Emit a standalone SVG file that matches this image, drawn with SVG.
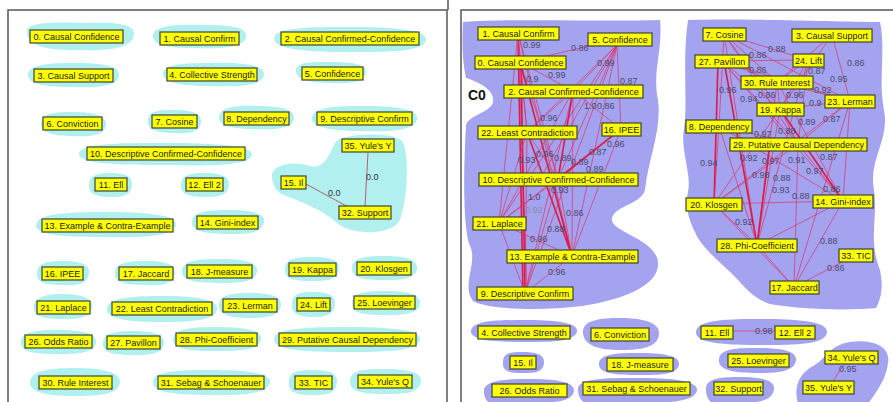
<svg xmlns="http://www.w3.org/2000/svg" width="893" height="402" viewBox="0 0 893 402">
<style>
.bc{fill:#b2f0f0}
.bp{fill:#a3a3ef}
.box{fill:#ffff00;stroke:#3c4634;stroke-width:1.2}
.t{font-family:"Liberation Sans",Arial,sans-serif;font-size:9px;fill:#1a1a1a;text-anchor:middle}
.e{stroke:#e0306a;stroke-width:0.7;fill:none}
.e2{stroke:#e01848;stroke-width:1.6;fill:none}
.el{stroke:#b06070;stroke-width:1;fill:none}
.lb{font-family:"Liberation Sans",Arial,sans-serif;font-size:9px;fill:#4a4a6e}
.lb0{font-family:"Liberation Sans",Arial,sans-serif;font-size:9px;fill:#303040}
.frame{fill:none;stroke:#555;stroke-width:1.5}
</style>
<rect width="893" height="402" fill="#ffffff"/>
<path class="frame" d="M8 403 V10 H447 V403"/>
<path class="frame" d="M448 0 V10"/>
<path class="frame" d="M461 403 V10 H895"/>

<!-- LEFT PANEL -->
<g id="left-blobs">
<path class="bc" d="M27 30 C28 22 60 22 90 23 C115 22 136 24 134 35 C132 48 110 51 80 50 C50 51 25 47 27 30 Z"/>
<path class="bc" d="M153 35 C154 25 180 24 205 25 C230 25 248 27 246 37 C244 48 220 49 195 48 C170 48 152 46 153 35 Z"/>
<path class="bc" d="M274 38 C276 27 310 27 350 27 C390 27 428 29 426 40 C424 52 390 52 350 52 C310 52 273 50 274 38 Z"/>
<path class="bc" d="M28 74 C30 63 55 63 75 63 C100 63 121 65 119 76 C117 87 95 88 72 87 C48 87 27 85 28 74 Z"/>
<path class="bc" d="M163 73 C165 63 190 63 215 63 C240 62 266 65 264 75 C262 86 238 87 212 86 C186 86 162 84 163 73 Z"/>
<path class="bc" d="M296 70 C297 61 315 62 332 62 C350 62 368 64 366 73 C364 83 348 84 330 83 C312 83 295 80 296 70 Z"/>
<path class="bc" d="M41 123 C42 112 58 112 74 112 C92 112 107 115 106 125 C105 136 90 137 72 136 C55 136 40 133 41 123 Z"/>
<path class="bc" d="M148 121 C148 110 160 110 175 110 C190 110 202 112 201 122 C200 133 188 134 174 133 C160 133 147 131 148 121 Z"/>
<path class="bc" d="M219 117 C220 106 240 105 257 106 C275 106 295 108 294 118 C293 129 275 130 256 129 C237 129 218 127 219 117 Z"/>
<path class="bc" d="M312 118 C313 106 340 106 365 106 C392 106 419 108 417 119 C415 131 390 132 364 131 C338 131 311 129 312 118 Z"/>
<path class="bc" d="M79 154 C80 143 120 143 166 143 C210 143 254 145 252 155 C250 166 210 166 166 165 C120 165 78 164 79 154 Z"/>
<path class="bc" d="M89 185 C89 174 100 173 111 173 C123 173 133 175 132 185 C131 197 121 197 110 197 C99 197 88 195 89 185 Z"/>
<path class="bc" d="M181 185 C181 174 193 173 205 173 C218 173 230 175 229 185 C228 197 216 197 204 197 C192 197 180 195 181 185 Z"/>
<path class="bc" d="M36 225 C37 213 70 212 106 212 C142 212 178 214 176 225 C174 237 140 238 106 237 C70 237 35 236 36 225 Z"/>
<path class="bc" d="M192 222 C192 211 210 210 228 210 C247 210 266 212 264 222 C262 234 245 234 227 234 C209 234 191 232 192 222 Z"/>
<path class="bc" d="M272 178 C270 165 292 160 310 166 C326 170 330 150 336 142 C342 133 396 131 403 142 C410 160 407 200 400 220 C392 236 350 236 336 222 C322 210 300 201 286 196 C276 192 273 186 272 178 Z"/>
<path class="bc" d="M37 273 C37 262 50 261 63 261 C77 261 90 263 89 273 C88 285 76 286 62 285 C49 285 36 284 37 273 Z"/>
<path class="bc" d="M115 273 C115 262 130 261 146 261 C162 261 176 263 175 273 C174 285 160 286 145 285 C130 285 114 284 115 273 Z"/>
<path class="bc" d="M182 271 C182 260 200 259 220 259 C240 259 258 261 257 271 C256 283 238 283 219 283 C200 283 181 282 182 271 Z"/>
<path class="bc" d="M285 269 C285 258 298 257 312 257 C327 257 340 259 339 269 C338 281 325 281 311 281 C297 281 284 280 285 269 Z"/>
<path class="bc" d="M352 268 C352 257 368 256 384 256 C401 256 418 258 417 268 C416 280 400 280 383 280 C367 280 351 279 352 268 Z"/>
<path class="bc" d="M34 307 C34 296 48 294 63 294 C78 294 93 297 92 307 C91 319 77 319 62 319 C48 319 33 318 34 307 Z"/>
<path class="bc" d="M107 309 C107 297 135 296 162 296 C190 296 218 298 217 309 C216 321 190 322 161 322 C134 322 106 320 107 309 Z"/>
<path class="bc" d="M219 305 C219 294 235 293 250 293 C266 293 282 295 281 305 C280 317 265 318 249 318 C234 318 218 316 219 305 Z"/>
<path class="bc" d="M292 304 C292 293 302 292 313 292 C325 292 336 294 335 304 C334 316 324 317 313 317 C302 317 291 315 292 304 Z"/>
<path class="bc" d="M352 303 C352 292 368 291 385 291 C403 291 421 293 420 303 C419 315 402 315 384 315 C367 315 351 314 352 303 Z"/>
<path class="bc" d="M21 342 C21 331 40 330 58 330 C77 330 97 332 96 342 C95 354 76 354 57 354 C39 354 20 353 21 342 Z"/>
<path class="bc" d="M103 343 C103 332 118 331 133 331 C149 331 165 333 164 343 C163 355 148 355 132 355 C117 355 102 354 103 343 Z"/>
<path class="bc" d="M173 339 C173 328 195 327 217 327 C240 327 262 329 261 339 C260 351 238 351 216 351 C194 351 172 350 173 339 Z"/>
<path class="bc" d="M274 339 C274 328 310 327 347 327 C385 327 421 329 420 339 C419 352 384 352 346 352 C310 352 273 351 274 339 Z"/>
<path class="bc" d="M30 382 C31 369 55 368 76 368 C98 368 121 371 120 382 C119 395 98 396 75 396 C53 396 29 394 30 382 Z"/>
<path class="bc" d="M153 382 C153 370 182 370 211 370 C241 370 271 372 270 382 C269 395 240 395 210 395 C181 395 152 394 153 382 Z"/>
<path class="bc" d="M289 382 C289 370 301 370 313 370 C326 370 338 372 337 382 C336 395 325 395 312 395 C300 395 288 394 289 382 Z"/>
<path class="bc" d="M350 381 C350 369 368 369 385 369 C403 369 422 371 421 381 C420 394 403 394 384 394 C367 394 349 393 350 381 Z"/>
</g>

<g id="left-connectors">
<line class="el" x1="306" y1="184" x2="350" y2="208"/>
<line class="el" x1="368" y1="153" x2="365" y2="206"/>
<text class="lb0" x="328" y="196">0.0</text>
<text class="lb0" x="366" y="180">0.0</text>
</g>

<g id="l0"><rect class="box" x="30" y="30" width="93" height="13"/><text class="t" x="76.5" y="40">0. Causal Confidence</text></g>
<g id="l1"><rect class="box" x="160" y="32" width="79" height="13"/><text class="t" x="199.5" y="42">1. Causal Confirm</text></g>
<g id="l2"><rect class="box" x="281" y="32" width="138" height="13"/><text class="t" x="350" y="42">2. Causal Confirmed-Confidence</text></g>
<g id="l3"><rect class="box" x="34" y="69" width="79" height="13"/><text class="t" x="73.5" y="79">3. Causal Support</text></g>
<g id="l4"><rect class="box" x="167" y="68" width="90" height="13"/><text class="t" x="212" y="78">4. Collective Strength</text></g>
<g id="l5"><rect class="box" x="302" y="67" width="61" height="13"/><text class="t" x="332.5" y="77">5. Confidence</text></g>
<g id="l6"><rect class="box" x="43" y="117" width="59" height="13"/><text class="t" x="72.5" y="127">6. Conviction</text></g>
<g id="l7"><rect class="box" x="152" y="115" width="45" height="13"/><text class="t" x="174.5" y="125">7. Cosine</text></g>
<g id="l8"><rect class="box" x="224" y="112" width="65" height="13"/><text class="t" x="256.5" y="122">8. Dependency</text></g>
<g id="l9"><rect class="box" x="317" y="112" width="95" height="13"/><text class="t" x="364.5" y="122">9. Descriptive Confirm</text></g>
<g id="l10"><rect class="box" x="87" y="147" width="158" height="13"/><text class="t" x="166" y="157">10. Descriptive Confirmed-Confidence</text></g>
<g id="l11"><rect class="box" x="95" y="178" width="32" height="13"/><text class="t" x="111" y="188">11. Ell</text></g>
<g id="l12"><rect class="box" x="186" y="178" width="37" height="13"/><text class="t" x="204.5" y="188">12. Ell 2</text></g>
<g id="l13"><rect class="box" x="42" y="219" width="131" height="13"/><text class="t" x="107.5" y="229">13. Example &amp; Contra-Example</text></g>
<g id="l14"><rect class="box" x="197" y="216" width="61" height="13"/><text class="t" x="227.5" y="226">14. Gini-index</text></g>
<g id="l15"><rect class="box" x="281" y="176" width="25" height="13"/><text class="t" x="293.5" y="186">15. Il</text></g>
<g id="l16"><rect class="box" x="42" y="267" width="41" height="13"/><text class="t" x="62.5" y="277">16. IPEE</text></g>
<g id="l17"><rect class="box" x="119" y="267" width="54" height="13"/><text class="t" x="146" y="277">17. Jaccard</text></g>
<g id="l18"><rect class="box" x="187" y="265" width="65" height="13"/><text class="t" x="219.5" y="275">18. J-measure</text></g>
<g id="l19"><rect class="box" x="289" y="263" width="47" height="13"/><text class="t" x="312.5" y="273">19. Kappa</text></g>
<g id="l20"><rect class="box" x="357" y="262" width="54" height="13"/><text class="t" x="384" y="272">20. Klosgen</text></g>
<g id="l21"><rect class="box" x="37" y="301" width="53" height="13"/><text class="t" x="63.5" y="311">21. Laplace</text></g>
<g id="l22"><rect class="box" x="112" y="302" width="100" height="13"/><text class="t" x="162" y="312">22. Least Contradiction</text></g>
<g id="l23"><rect class="box" x="223" y="299" width="54" height="13"/><text class="t" x="250" y="309">23. Lerman</text></g>
<g id="l24"><rect class="box" x="297" y="298" width="33" height="13"/><text class="t" x="313.5" y="308">24. Lift</text></g>
<g id="l25"><rect class="box" x="354" y="296" width="61" height="13"/><text class="t" x="384.5" y="306">25. Loevinger</text></g>
<g id="l26"><rect class="box" x="25" y="335" width="67" height="13"/><text class="t" x="58.5" y="345">26. Odds Ratio</text></g>
<g id="l27"><rect class="box" x="107" y="336" width="53" height="13"/><text class="t" x="133.5" y="346">27. Pavillon</text></g>
<g id="l28"><rect class="box" x="176" y="333" width="81" height="13"/><text class="t" x="216.5" y="343">28. Phi-Coefficient</text></g>
<g id="l29"><rect class="box" x="279" y="333" width="137" height="13"/><text class="t" x="347.5" y="343">29. Putative Causal Dependency</text></g>
<g id="l30"><rect class="box" x="39" y="376" width="73" height="13"/><text class="t" x="75.5" y="386">30. Rule Interest</text></g>
<g id="l31"><rect class="box" x="158" y="376" width="106" height="13"/><text class="t" x="211" y="386">31. Sebag &amp; Schoenauer</text></g>
<g id="l32"><rect class="box" x="339" y="206" width="52" height="13"/><text class="t" x="365" y="216">32. Support</text></g>
<g id="l33"><rect class="box" x="295" y="376" width="37" height="13"/><text class="t" x="313.5" y="386">33. TIC</text></g>
<g id="l34"><rect class="box" x="358" y="375" width="54" height="13"/><text class="t" x="385" y="385">34. Yule's Q</text></g>
<g id="l35"><rect class="box" x="342" y="139" width="52" height="13"/><text class="t" x="368" y="149">35. Yule's Y</text></g>

<!-- RIGHT PANEL -->
<g id="right-blobs">
<path class="bp" d="M463 22 C520 18 600 22 660 20 C663 50 652 72 658 100 C662 130 648 160 645 190 C640 205 616 205 612 218 C609 232 655 238 658 262 C660 286 622 300 582 306 C540 311 490 310 473 301 C461 286 478 262 470 246 C462 226 464 160 466 126 C467 115 491 113 493 102 C495 90 479 82 466 78 C462 60 462 40 463 22 Z"/>
<path class="bp" d="M688 20 C740 18 830 22 880 22 C886 50 878 80 884 110 C890 140 868 160 874 190 C878 220 868 240 880 270 C884 290 880 300 876 308 C840 311 800 309 770 304 C750 298 740 280 728 270 C715 258 700 245 695 232 C688 218 685 205 688 192 C692 175 680 150 684 128 C688 105 682 60 688 20 Z"/>
<path class="bp" d="M471 331 C472 320 500 320 525 320 C552 320 578 322 577 331 C576 342 550 342 524 342 C498 342 470 341 471 331 Z"/>
<path class="bp" d="M583 333 C582 320 600 318 620 318 C642 318 660 322 659 334 C658 348 640 350 620 350 C600 350 584 346 583 333 Z"/>
<path class="bp" d="M696 332 C697 319 730 319 762 319 C795 319 828 321 827 332 C826 345 795 345 761 345 C728 345 695 344 696 332 Z"/>
<path class="bp" d="M503 362 C503 352 512 352 523 352 C535 352 545 354 544 363 C543 373 534 373 522 373 C511 373 502 372 503 362 Z"/>
<path class="bp" d="M599 364 C599 353 620 353 640 353 C660 353 680 355 679 364 C678 375 659 375 639 375 C619 375 598 374 599 364 Z"/>
<path class="bp" d="M719 360 C719 348 738 348 758 348 C778 348 797 350 796 360 C795 372 777 373 757 373 C737 373 718 371 719 360 Z"/>
<path class="bp" d="M798 404 C793 386 800 372 815 365 C826 358 830 345 850 342 C872 339 891 346 888 363 C886 380 876 392 868 404 Z"/>
<path class="bp" d="M484 391 C484 380 506 379 529 379 C552 379 575 381 574 391 C573 402 552 403 528 403 L490 403 C485 400 484 396 484 391 Z"/>
<path class="bp" d="M578 389 C578 378 607 378 637 378 C668 378 698 380 697 390 C696 402 668 403 636 403 L585 403 C580 400 578 395 578 389 Z"/>
<path class="bp" d="M706 389 C706 378 722 377 740 377 C758 377 775 379 774 389 C773 401 758 403 739 403 L712 403 C707 399 706 394 706 389 Z"/>
</g>
<text x="468" y="100" style="font-family:'Liberation Sans',Arial,sans-serif;font-size:14px;font-weight:bold;fill:#111">C0</text>

<g id="right-connectors">
<!-- C0 -->
<line class="e" x1="518" y1="33" x2="520" y2="62"/>
<line class="e2" x1="518" y1="33" x2="523" y2="293"/>
<line class="e" x1="518" y1="33" x2="527" y2="290"/>
<line class="e" x1="518" y1="33" x2="558" y2="179"/>
<line class="e" x1="518" y1="33" x2="527" y2="132"/>
<line class="e" x1="518" y1="33" x2="499" y2="223"/>
<line class="e" x1="518" y1="33" x2="572" y2="256"/>
<line class="e" x1="520" y1="62" x2="573" y2="91"/>
<line class="e" x1="520" y1="62" x2="620" y2="39"/>
<line class="e2" x1="521" y1="62" x2="525" y2="293"/>
<line class="e" x1="520" y1="62" x2="527" y2="132"/>
<line class="e" x1="520" y1="62" x2="558" y2="179"/>
<line class="e2" x1="520" y1="62" x2="572" y2="256"/>
<line class="e" x1="617" y1="45" x2="573" y2="91"/>
<line class="e" x1="617" y1="45" x2="621" y2="129"/>
<line class="e" x1="617" y1="45" x2="558" y2="179"/>
<line class="e" x1="617" y1="45" x2="572" y2="256"/>
<line class="e" x1="617" y1="45" x2="525" y2="293"/>
<line class="e" x1="617" y1="45" x2="527" y2="132"/>
<line class="e" x1="617" y1="45" x2="499" y2="223"/>
<line class="e" x1="617" y1="45" x2="540" y2="179"/>
<line class="e" x1="573" y1="91" x2="621" y2="129"/>
<line class="e" x1="573" y1="91" x2="527" y2="132"/>
<line class="e2" x1="573" y1="91" x2="558" y2="179"/>
<line class="e" x1="573" y1="91" x2="572" y2="256"/>
<line class="e" x1="573" y1="91" x2="525" y2="293"/>
<line class="e" x1="573" y1="91" x2="499" y2="223"/>
<line class="e" x1="527" y1="132" x2="558" y2="179"/>
<line class="e2" x1="527" y1="132" x2="572" y2="256"/>
<line class="e" x1="527" y1="132" x2="525" y2="293"/>
<line class="e" x1="527" y1="132" x2="499" y2="223"/>
<line class="e2" x1="621" y1="129" x2="558" y2="179"/>
<line class="e" x1="621" y1="129" x2="499" y2="223"/>
<line class="e" x1="621" y1="129" x2="572" y2="256"/>
<line class="e" x1="558" y1="179" x2="572" y2="256"/>
<line class="e" x1="558" y1="179" x2="525" y2="293"/>
<line class="e" x1="558" y1="179" x2="499" y2="223"/>
<line class="e" x1="499" y1="223" x2="572" y2="256"/>
<line class="e" x1="572" y1="256" x2="525" y2="293"/>
<line class="e" x1="499" y1="223" x2="525" y2="293"/>
<!-- right cluster -->
<line class="e" x1="724" y1="34" x2="808" y2="60"/>
<line class="e" x1="724" y1="34" x2="850" y2="101"/>
<line class="e" x1="724" y1="34" x2="777" y2="82"/>
<line class="e" x1="724" y1="34" x2="780" y2="109"/>
<line class="e" x1="724" y1="34" x2="757" y2="245"/>
<line class="e" x1="724" y1="34" x2="798" y2="144"/>
<line class="e" x1="724" y1="34" x2="719" y2="126"/>
<line class="e" x1="832" y1="35" x2="850" y2="101"/>
<line class="e" x1="832" y1="35" x2="777" y2="82"/>
<line class="e" x1="832" y1="35" x2="780" y2="109"/>
<line class="e" x1="722" y1="61" x2="808" y2="60"/>
<line class="e" x1="722" y1="61" x2="777" y2="82"/>
<line class="e" x1="722" y1="61" x2="850" y2="101"/>
<line class="e" x1="722" y1="61" x2="780" y2="109"/>
<line class="e2" x1="718" y1="61" x2="714" y2="204"/>
<line class="e2" x1="724" y1="61" x2="757" y2="245"/>
<line class="e" x1="722" y1="61" x2="798" y2="144"/>
<line class="e" x1="722" y1="61" x2="843" y2="201"/>
<line class="e" x1="808" y1="60" x2="777" y2="82"/>
<line class="e" x1="808" y1="60" x2="780" y2="109"/>
<line class="e" x1="808" y1="60" x2="798" y2="144"/>
<line class="e" x1="808" y1="60" x2="757" y2="245"/>
<line class="e" x1="777" y1="82" x2="850" y2="101"/>
<line class="e" x1="777" y1="82" x2="780" y2="109"/>
<line class="e" x1="777" y1="82" x2="757" y2="245"/>
<line class="e" x1="777" y1="82" x2="843" y2="201"/>
<line class="e" x1="850" y1="101" x2="780" y2="109"/>
<line class="e" x1="850" y1="101" x2="798" y2="144"/>
<line class="e" x1="850" y1="101" x2="714" y2="204"/>
<line class="e" x1="850" y1="101" x2="843" y2="201"/>
<line class="e" x1="850" y1="101" x2="794" y2="287"/>
<line class="e" x1="780" y1="109" x2="798" y2="144"/>
<line class="e2" x1="780" y1="109" x2="843" y2="201"/>
<line class="e" x1="780" y1="109" x2="757" y2="245"/>
<line class="e" x1="780" y1="109" x2="714" y2="204"/>
<line class="e" x1="719" y1="126" x2="798" y2="144"/>
<line class="e" x1="719" y1="126" x2="714" y2="204"/>
<line class="e" x1="719" y1="126" x2="843" y2="201"/>
<line class="e" x1="719" y1="126" x2="757" y2="245"/>
<line class="e" x1="798" y1="144" x2="714" y2="204"/>
<line class="e2" x1="770" y1="144" x2="757" y2="245"/>
<line class="e" x1="798" y1="144" x2="843" y2="201"/>
<line class="e" x1="798" y1="144" x2="794" y2="287"/>
<line class="e" x1="714" y1="204" x2="843" y2="201"/>
<line class="e" x1="714" y1="204" x2="757" y2="245"/>
<line class="e" x1="714" y1="204" x2="794" y2="287"/>
<line class="e" x1="757" y1="245" x2="843" y2="201"/>
<line class="e" x1="757" y1="245" x2="794" y2="287"/>
<line class="e" x1="843" y1="201" x2="794" y2="287"/>
<line class="e" x1="856" y1="255" x2="794" y2="287"/>
<!-- bottom -->
<line class="e" x1="733" y1="331" x2="775" y2="331"/>
<line class="e" x1="845" y1="363" x2="833" y2="381"/>
</g>

<g id="right-labels">
<text class="lb" x="523" y="48">0.99</text>
<text class="lb" x="571" y="51">0.86</text>
<text class="lb" x="597" y="66">0.99</text>
<text class="lb" x="548" y="78">0.99</text>
<text class="lb" x="526" y="82">0.9</text>
<text class="lb" x="620" y="84">0.87</text>
<text class="lb" x="584" y="109">1.0</text>
<text class="lb" x="597" y="109">0.86</text>
<text class="lb" x="540" y="121">0.96</text>
<text class="lb" x="607" y="147">0.96</text>
<text class="lb" x="589" y="155">0.87</text>
<text class="lb" x="518" y="163">0.93</text>
<text class="lb" x="536" y="157">0.96</text>
<text class="lb" x="554" y="161">0.89</text>
<text class="lb" x="571" y="165">0.89</text>
<text class="lb" x="586" y="172">0.89</text>
<text class="lb" x="551" y="193">0.93</text>
<text class="lb" x="528" y="200">1.0</text>
<text class="lb" x="525" y="213" style="fill:#8a8ab0">0.92</text>
<text class="lb" x="566" y="216">0.86</text>
<text class="lb" x="547" y="232">0.88</text>
<text class="lb" x="530" y="242">0.96</text>
<text class="lb" x="548" y="275">0.96</text>
<text class="lb" x="749" y="58">0.86</text>
<text class="lb" x="768" y="52">0.88</text>
<text class="lb" x="847" y="66">0.86</text>
<text class="lb" x="749" y="73">0.86</text>
<text class="lb" x="808" y="74">0.87</text>
<text class="lb" x="830" y="82">0.95</text>
<text class="lb" x="719" y="93">0.96</text>
<text class="lb" x="758" y="98">0.86</text>
<text class="lb" x="786" y="98">0.96</text>
<text class="lb" x="814" y="93">0.92</text>
<text class="lb" x="740" y="102">0.94</text>
<text class="lb" x="809" y="106">0.9</text>
<text class="lb" x="823" y="122">0.87</text>
<text class="lb" x="798" y="125">0.89</text>
<text class="lb" x="778" y="134">0.88</text>
<text class="lb" x="754" y="137">0.97</text>
<text class="lb" x="820" y="160">0.87</text>
<text class="lb" x="700" y="166">0.94</text>
<text class="lb" x="740" y="161">0.92</text>
<text class="lb" x="762" y="164">0.97</text>
<text class="lb" x="788" y="163">0.91</text>
<text class="lb" x="806" y="174">0.97</text>
<text class="lb" x="752" y="178">0.98</text>
<text class="lb" x="773" y="181">0.88</text>
<text class="lb" x="823" y="192">0.86</text>
<text class="lb" x="772" y="193">0.93</text>
<text class="lb" x="792" y="199">0.88</text>
<text class="lb" x="735" y="225">0.92</text>
<text class="lb" x="820" y="244">0.88</text>
<text class="lb" x="827" y="271">0.86</text>
<text class="lb" x="755" y="334">0.98</text>
<text class="lb" x="839" y="372">0.95</text>
</g>

<g id="r0"><rect class="box" x="475" y="56" width="91" height="13"/><text class="t" x="520.5" y="66">0. Causal Confidence</text></g>
<g id="r1"><rect class="box" x="478" y="27" width="81" height="13"/><text class="t" x="518.5" y="37">1. Causal Confirm</text></g>
<g id="r2"><rect class="box" x="504" y="85" width="139" height="13"/><text class="t" x="573.5" y="95">2. Causal Confirmed-Confidence</text></g>
<g id="r3"><rect class="box" x="792" y="29" width="80" height="13"/><text class="t" x="832" y="39">3. Causal Support</text></g>
<g id="r4"><rect class="box" x="478" y="326" width="92" height="13"/><text class="t" x="524" y="336">4. Collective Strength</text></g>
<g id="r5"><rect class="box" x="588" y="33" width="64" height="13"/><text class="t" x="620" y="43">5. Confidence</text></g>
<g id="r6"><rect class="box" x="591" y="328" width="58" height="13"/><text class="t" x="620" y="338">6. Conviction</text></g>
<g id="r7"><rect class="box" x="703" y="28" width="43" height="13"/><text class="t" x="724.5" y="38">7. Cosine</text></g>
<g id="r8"><rect class="box" x="686" y="120" width="66" height="13"/><text class="t" x="719" y="130">8. Dependency</text></g>
<g id="r9"><rect class="box" x="477" y="287" width="96" height="13"/><text class="t" x="525" y="297">9. Descriptive Confirm</text></g>
<g id="r10"><rect class="box" x="479" y="173" width="159" height="13"/><text class="t" x="558.5" y="183">10. Descriptive Confirmed-Confidence</text></g>
<g id="r11"><rect class="box" x="701" y="326" width="32" height="13"/><text class="t" x="717" y="336">11. Ell</text></g>
<g id="r12"><rect class="box" x="775" y="326" width="40" height="13"/><text class="t" x="795" y="336">12. Ell 2</text></g>
<g id="r13"><rect class="box" x="507" y="250" width="131" height="13"/><text class="t" x="572.5" y="260">13. Example &amp; Contra-Example</text></g>
<g id="r14"><rect class="box" x="813" y="195" width="60" height="13"/><text class="t" x="843" y="205">14. Gini-index</text></g>
<g id="r15"><rect class="box" x="510" y="356" width="26" height="13"/><text class="t" x="523" y="366">15. Il</text></g>
<g id="r16"><rect class="box" x="602" y="123" width="39" height="13"/><text class="t" x="621.5" y="133">16. IPEE</text></g>
<g id="r17"><rect class="box" x="770" y="281" width="49" height="13"/><text class="t" x="794.5" y="291">17. Jaccard</text></g>
<g id="r18"><rect class="box" x="607" y="358" width="66" height="13"/><text class="t" x="640" y="368">18. J-measure</text></g>
<g id="r19"><rect class="box" x="757" y="103" width="47" height="13"/><text class="t" x="780.5" y="113">19. Kappa</text></g>
<g id="r20"><rect class="box" x="686" y="198" width="56" height="13"/><text class="t" x="714" y="208">20. Klosgen</text></g>
<g id="r21"><rect class="box" x="473" y="217" width="53" height="13"/><text class="t" x="499.5" y="227">21. Laplace</text></g>
<g id="r22"><rect class="box" x="478" y="126" width="99" height="13"/><text class="t" x="527.5" y="136">22. Least Contradiction</text></g>
<g id="r23"><rect class="box" x="825" y="95" width="50" height="13"/><text class="t" x="850" y="105">23. Lerman</text></g>
<g id="r24"><rect class="box" x="793" y="54" width="31" height="13"/><text class="t" x="808.5" y="64">24. Lift</text></g>
<g id="r25"><rect class="box" x="728" y="354" width="61" height="13"/><text class="t" x="758.5" y="364">25. Loevinger</text></g>
<g id="r26"><rect class="box" x="492" y="384" width="75" height="13"/><text class="t" x="529.5" y="394">26. Odds Ratio</text></g>
<g id="r27"><rect class="box" x="695" y="55" width="54" height="13"/><text class="t" x="722" y="65">27. Pavillon</text></g>
<g id="r28"><rect class="box" x="717" y="239" width="80" height="13"/><text class="t" x="757" y="249">28. Phi-Coefficient</text></g>
<g id="r29"><rect class="box" x="730" y="138" width="137" height="13"/><text class="t" x="798.5" y="148">29. Putative Causal Dependency</text></g>
<g id="r30"><rect class="box" x="741" y="76" width="72" height="13"/><text class="t" x="777" y="86">30. Rule Interest</text></g>
<g id="r31"><rect class="box" x="583" y="382" width="107" height="13"/><text class="t" x="636.5" y="392">31. Sebag &amp; Schoenauer</text></g>
<g id="r32"><rect class="box" x="714" y="382" width="49" height="13"/><text class="t" x="738.5" y="392">32. Support</text></g>
<g id="r33"><rect class="box" x="839" y="249" width="34" height="13"/><text class="t" x="856" y="259">33. TIC</text></g>
<g id="r34"><rect class="box" x="825" y="351" width="53" height="13"/><text class="t" x="851.5" y="361">34. Yule's Q</text></g>
<g id="r35"><rect class="box" x="803" y="381" width="51" height="13"/><text class="t" x="828.5" y="391">35. Yule's Y</text></g>
</svg>
